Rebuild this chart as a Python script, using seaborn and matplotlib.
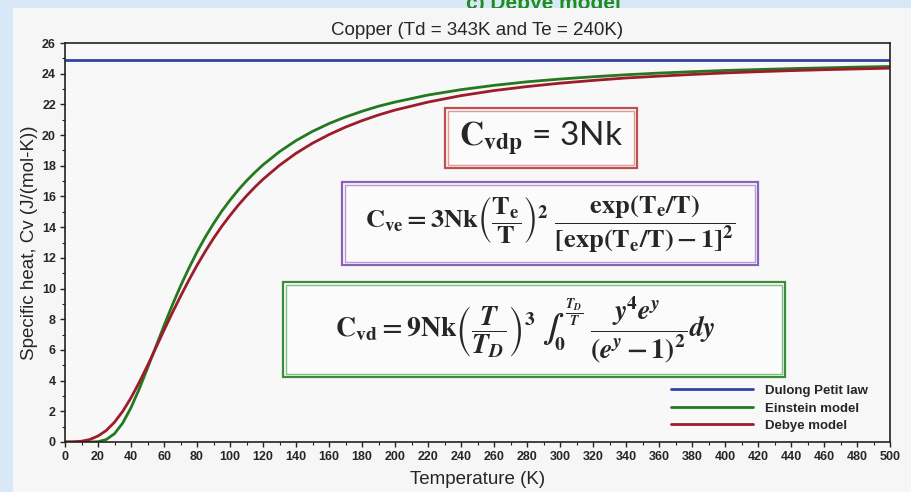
import numpy as np
import pandas as pd
import matplotlib
matplotlib.use("Agg")
import matplotlib.pyplot as plt
from matplotlib.patches import Rectangle
from matplotlib.ticker import MultipleLocator
import seaborn as sns

# values
TEMPERATURE_K = [0, 5, 10, 15, 20, 25, 30, 35, 40, 45, 50, 55, 60, 65, 70, 75, 80,
                 85, 90, 95, 100, 105, 110, 115, 120, 130, 140, 150, 160, 170, 180,
                 190, 200, 220, 240, 260, 280, 300, 320, 340, 360, 380, 400, 420,
                 440, 460, 480, 500]
EINSTEIN_CV = [0.0, 0.0, 0.0, 0.0, 0.02, 0.16, 0.54, 1.24, 2.24, 3.46, 4.81, 6.20,
               7.58, 8.91, 10.16, 11.31, 12.38, 13.35, 14.23, 15.04, 15.76, 16.42,
               17.02, 17.56, 18.06, 18.92, 19.64, 20.24, 20.75, 21.18, 21.55, 21.88,
               22.15, 22.61, 22.96, 23.24, 23.47, 23.65, 23.80, 23.93, 24.04, 24.13,
               24.21, 24.27, 24.33, 24.38, 24.43, 24.47]
DEBYE_CV = [0.0, 0.01, 0.05, 0.16, 0.39, 0.75, 1.29, 2.00, 2.88, 3.89, 4.98, 6.12,
            7.28, 8.41, 9.49, 10.53, 11.51, 12.42, 13.27, 14.05, 14.76, 15.43,
            16.04, 16.60, 17.12, 18.03, 18.81, 19.47, 20.03, 20.52, 20.94, 21.31,
            21.63, 22.15, 22.57, 22.90, 23.16, 23.38, 23.56, 23.72, 23.84, 23.95,
            24.05, 24.13, 24.20, 24.26, 24.31, 24.36]
DULONG_T = [0, 500]
DULONG_CV = [24.9, 24.9]

SERIES_LABELS = ["Dulong Petit law", "Einstein model", "Debye model"]
SERIES_COLORS = ["#2c46a6", "#24791f", "#9e1b2b"]

W, H = 911, 492


def fig_box(x0, y0, x1, y1):
    # pixel box (top-left origin) -> figure fraction (x, y, w, h)
    return x0 / W, 1 - y1 / H, (x1 - x0) / W, (y1 - y0) / H


def double_box(fig, px, color_out, color_in):
    x0, y0, x1, y1 = px
    x, y, w, h = fig_box(x0, y0, x1, y1)
    fig.patches.append(Rectangle((x, y), w, h, transform=fig.transFigure,
                                 facecolor="#fbfbfb", edgecolor=color_out,
                                 linewidth=1.6, zorder=2))
    x, y, w, h = fig_box(x0 + 3, y0 + 3, x1 - 3, y1 - 3)
    fig.patches.append(Rectangle((x, y), w, h, transform=fig.transFigure,
                                 facecolor="none", edgecolor=color_in,
                                 linewidth=1.0, zorder=2))


sns.set_theme(style="ticks")
plt.rcParams["font.family"] = ["Liberation Sans", "DejaVu Sans"]
plt.rcParams["mathtext.fontset"] = "stix"
plt.rcParams["mathtext.default"] = "bf"

fig = plt.figure(figsize=(W / 100, H / 100), dpi=100, facecolor="#d9e8f6")
# slide panel behind the chart
x, y, w, h = fig_box(13, 8, W, H)
fig.patches.append(Rectangle((x, y), w, h, transform=fig.transFigure,
                             facecolor="#f6f6f6", edgecolor="none", zorder=-1))
fig.text(0.596, 1 - 9 / H, "c) Debye model", color="#1f8c1f", fontsize=15,
         fontweight="bold", ha="center", va="baseline", zorder=-2)

ax = fig.add_axes([65 / W, 1 - 442 / H, (890 - 65) / W, (442 - 43) / H])
ax.set_facecolor("#f8f8f8")

sns.lineplot(x=DULONG_T, y=DULONG_CV, ax=ax, color=SERIES_COLORS[0],
             linewidth=2.0, label=SERIES_LABELS[0])
sns.lineplot(x=TEMPERATURE_K, y=EINSTEIN_CV, ax=ax, color=SERIES_COLORS[1],
             linewidth=2.0, label=SERIES_LABELS[1])
sns.lineplot(x=TEMPERATURE_K, y=DEBYE_CV, ax=ax, color=SERIES_COLORS[2],
             linewidth=2.0, label=SERIES_LABELS[2])

ax.set_xlim(0, 500)
ax.set_ylim(0, 26)
ax.xaxis.set_major_locator(MultipleLocator(20))
ax.xaxis.set_minor_locator(MultipleLocator(10))
ax.yaxis.set_major_locator(MultipleLocator(2))
ax.yaxis.set_minor_locator(MultipleLocator(1))
ax.tick_params(which="major", length=3.5, width=1, labelsize=9, pad=3, color="#222222")
ax.tick_params(which="minor", length=2, width=0.8, color="#222222")
plt.setp(ax.get_xticklabels() + ax.get_yticklabels(), fontweight="bold")
for sp in ax.spines.values():
    sp.set_visible(True)
    sp.set_color("#222222")
    sp.set_linewidth(1.2)

ax.set_xlabel("Temperature (K)", fontsize=13.5, labelpad=6)
ax.set_ylabel("Specific heat, Cv (J/(mol-K))", fontsize=13.5, labelpad=3)
ax.set_title("Copper (Td = 343K and Te = 240K)", fontsize=13.5, pad=6)

ax.legend(loc="lower right", bbox_to_anchor=(0.973, 0.025), frameon=False,
          borderpad=0, borderaxespad=0, handlelength=6.2, handletextpad=0.9,
          labelspacing=0.4, prop={"weight": "bold", "size": 9.5})

# equation boxes
double_box(fig, (445, 108, 637, 168), "#c0504d", "#e39a98")
double_box(fig, (342, 182, 758, 265), "#8a63b8", "#b89ad6")
double_box(fig, (283, 282, 785, 377), "#3b8c3b", "#7fbf7f")

cx, cy = (445 + 637) / 2 / W, 1 - 138 / H
fig.text(cx, cy, r"$C_{vdp}$" + " = 3Nk", fontsize=24, ha="center", va="center",
         family=["Lato", "DejaVu Sans"], zorder=3)
fig.text((342 + 758) / 2 / W, 1 - 224 / H,
         r"$C_{ve} = 3Nk\left(\dfrac{T_e}{T}\right)^2\ \dfrac{exp(T_e/T)}{[exp(T_e/T) - 1]^2}$",
         fontsize=19, ha="center", va="center", zorder=3)
fig.text((283 + 785) / 2 / W - 0.01, 1 - 330 / H,
         r"$C_{vd} = 9Nk\left(\dfrac{\mathbfit{T}}{\mathbfit{T}_{\mathbfit{D}}}\right)^3"
         r"\ \int_0^{\frac{\mathbfit{T}_{\mathbfit{D}}}{\mathbfit{T}}}"
         r"\ \dfrac{\mathbfit{y}^4\mathbfit{e}^{\mathbfit{y}}}{(\mathbfit{e}^{\mathbfit{y}} - 1)^2}\mathbfit{dy}$",
         fontsize=20, ha="center", va="center", zorder=3)

fig.savefig("out.png", dpi=100, facecolor=fig.get_facecolor())
